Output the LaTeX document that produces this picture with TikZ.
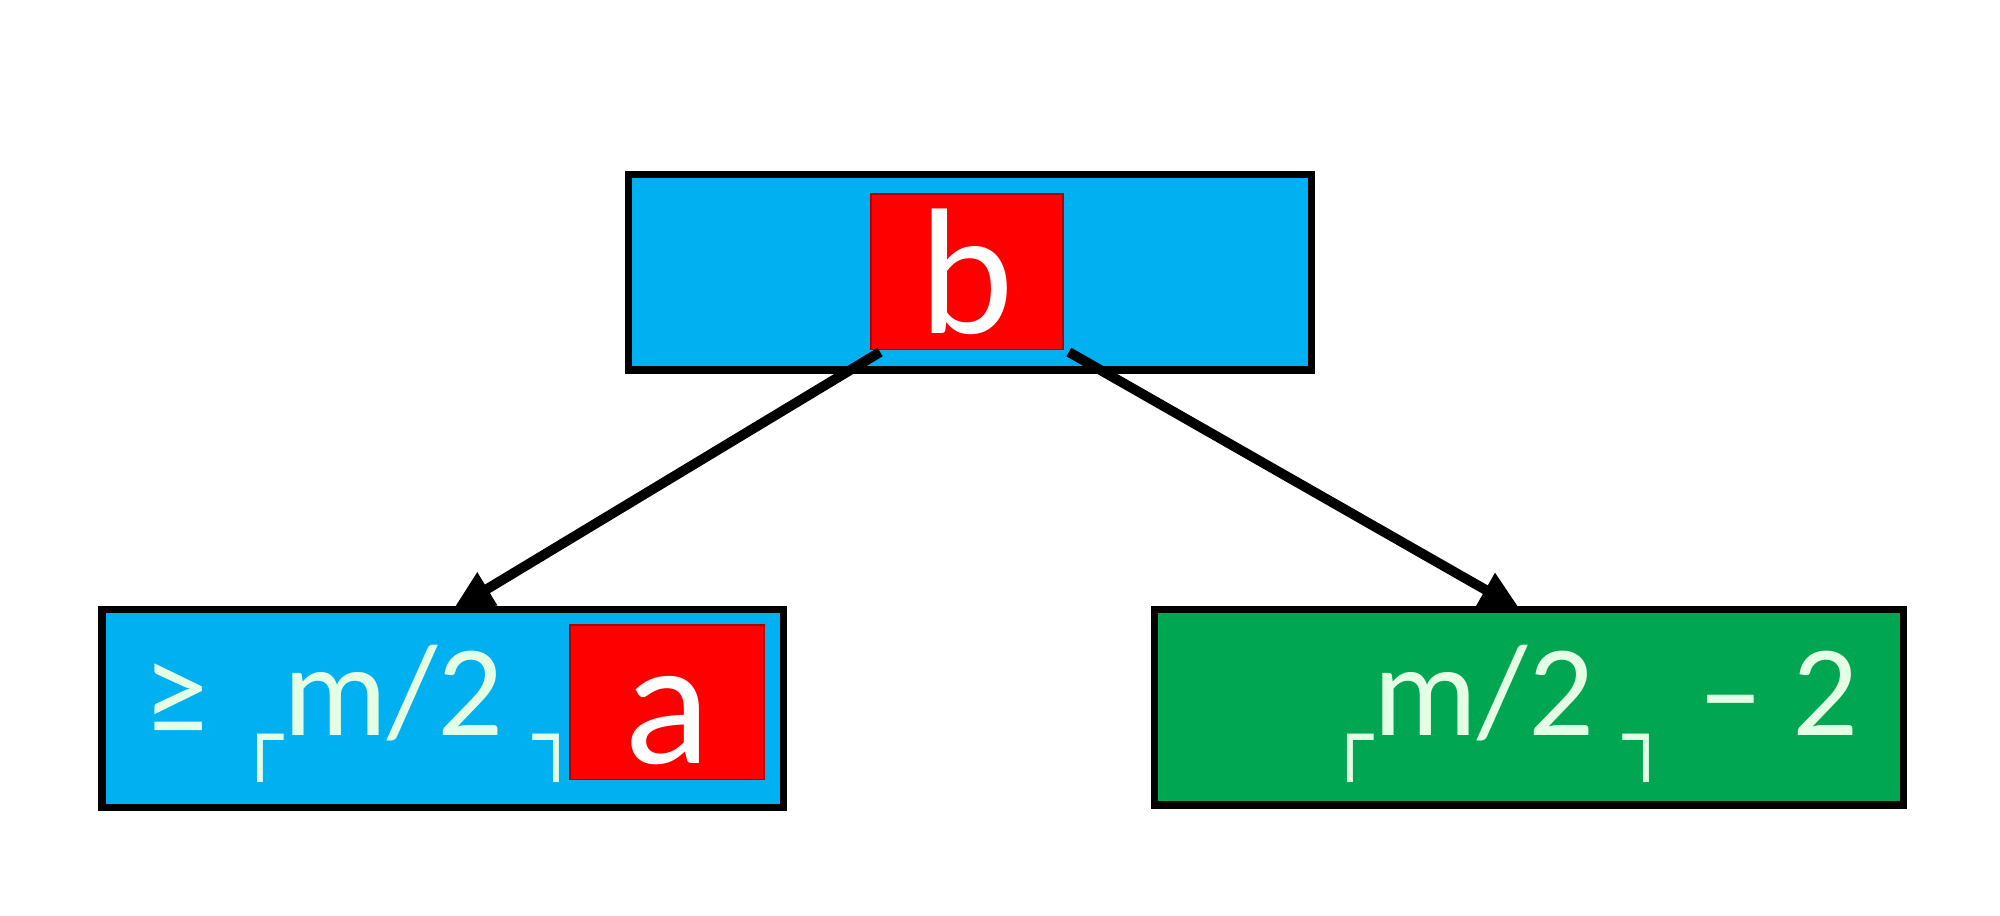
\documentclass[tikz,border=0pt]{standalone}
\usepackage{fontspec}
\setmainfont{Carlito}
\newfontfamily\boxfont{DejaVu Sans}
\usetikzlibrary{arrows.meta}
\definecolor{cblue}{RGB}{0,176,240}
\definecolor{cgreen}{RGB}{0,166,81}
\definecolor{cred}{RGB}{255,0,0}
\newcommand{\lc}{\raisebox{-0.45ex}{\boxfont\fontsize{17}{20}\selectfont ┌}}
\newcommand{\rc}{\raisebox{-0.45ex}{\boxfont\fontsize{17}{20}\selectfont ┐}}
\begin{document}
\begin{tikzpicture}[x=0.01cm,y=-0.01cm,
  box/.style={draw=black,line width=1.6pt,inner sep=0pt,outer sep=0pt,anchor=north west},
  redbox/.style={fill=cred,draw=cred!70!black,line width=0.4pt,inner sep=0pt,outer sep=0pt,anchor=north west},
  letter/.style={text=white,font=\fontsize{40}{42}\selectfont,inner sep=0pt},
  lbl/.style={text=white!90!green,font=\fontsize{29}{32}\selectfont,inner sep=0pt},
  arr/.style={line width=2.2pt,-{Triangle[length=9pt,width=8pt]}}]
\useasboundingbox (0,0) rectangle (1568,718);
\node[box,fill=cblue,minimum width=5.35cm,minimum height=1.53cm] (top) at (493,137) {};
\node[redbox,minimum width=1.5cm,minimum height=1.22cm] (b) at (683,152) {};
\node[letter] (bt) at (b.center) {b};
\node[box,fill=cblue,minimum width=5.34cm,minimum height=1.55cm] (left) at (80,478) {};
\node[redbox,minimum width=1.52cm,minimum height=1.21cm] (a) at (447,490) {};
\node[letter] (at) at ([yshift=-4pt]a.center) {a};
\node[box,fill=cgreen,minimum width=5.87cm,minimum height=1.53cm] (right) at (905,478) {};
\node[lbl,anchor=west] (ltxt) at (112,560) {≥ \lc m/2 \rc};
\node[lbl,anchor=east] (rtxt) at (1458,560) {\lc m/2 \rc\ – 2};
\coordinate (bl) at (690,276);
\coordinate (br) at (838,276);
\coordinate (lt) at (355,478);
\coordinate (rt) at (1192,478);
\draw[arr] (bl) -- (lt);
\draw[arr] (br) -- (rt);
\end{tikzpicture}
\end{document}
